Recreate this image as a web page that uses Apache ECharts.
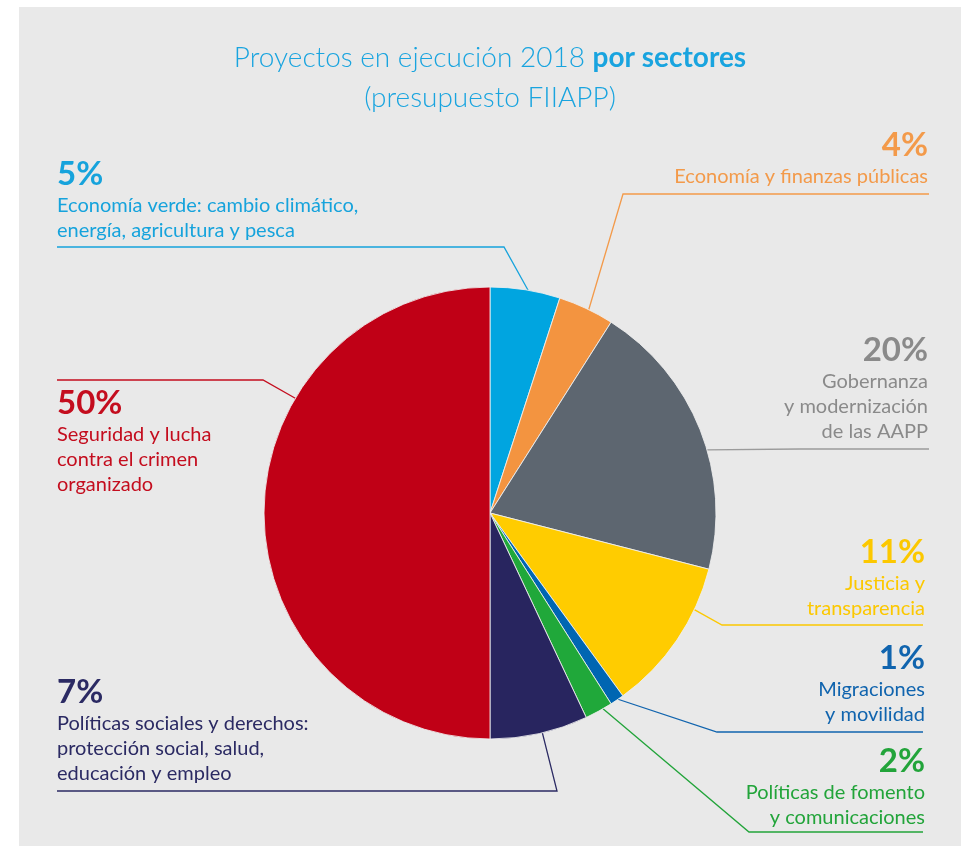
<!DOCTYPE html>
<html>
<head>
<meta charset="utf-8">
<script src="https://cdn.jsdelivr.net/npm/echarts@6/dist/echarts.min.js"></script>
<style>
  html, body { margin: 0; padding: 0; background: #ffffff; }
  #paper { position: absolute; left: 19px; top: 7px; width: 942px; height: 839px;
    background: #e9e9e9; }
  #chart { position: absolute; left: 0; top: 0; width: 968px; height: 846px; }
</style>
</head>
<body>
<div id="paper"></div>
<div id="chart"></div>
<script>
// ---- data ----
const sectors = [
  'Economía verde: cambio climático,\nenergía, agricultura y pesca',
  'Economía y finanzas públicas',
  'Gobernanza\ny modernización\nde las AAPP',
  'Justicia y\ntransparencia',
  'Migraciones\ny movilidad',
  'Políticas de fomento\ny comunicaciones',
  'Políticas sociales y derechos:\nprotección social, salud,\neducación y empleo',
  'Seguridad y lucha\ncontra el crimen\norganizado'
];
const shares = [5, 4, 20, 11, 1, 2, 7, 50];
const titleMain = 'Proyectos en ejecución 2018 ';
const titleBold = 'por sectores';
const titleSub = '(presupuesto FIIAPP)';

// ---- styles / layout ----
const sliceColors = ['#00a5e0', '#f39440', '#5d6670', '#ffcc00', '#0066b2', '#20a83a', '#28255f', '#c00016'];
const textColors  = ['#16a3dc', '#f39a4a', '#8a8a8a', '#fcc800', '#1064ae', '#22a43a', '#2b2a63', '#c40d1e'];
const lineColors  = ['#16a3dc', '#f39a4a', '#9b9b9b', '#fcc800', '#1064ae', '#22a43a', '#2b2a63', '#c40d1e'];
const CX = 490, CY = 513, R = 226;
// label block anchor: x, top y, alignment
const labelAnchors = [
  { x: 57,  y: 155, align: 'left'  },
  { x: 928, y: 126, align: 'right' },
  { x: 928, y: 331, align: 'right' },
  { x: 925, y: 533, align: 'right' },
  { x: 925, y: 639, align: 'right' },
  { x: 925, y: 742, align: 'right' },
  { x: 57,  y: 673, align: 'left'  },
  { x: 57,  y: 384, align: 'left'  }
];
// leader line: angle on the rim (deg clockwise from top), elbow, end
const leaderAngles = [9.7, 25.9, 73.8, 115.3, 145.5, 150, 166.6, 300.5];
const leaderElbows = [[504, 247], [623, 194], [800, 449], [722, 625], [717, 732], [749, 832], [557, 791], [263, 380]];
const leaderEnds   = [[57, 247], [929, 194], [929, 449], [923, 625], [923, 732], [923, 832], [57, 791], [57, 380]];

const chart = echarts.init(document.getElementById('chart'), null, { renderer: 'canvas' });
const FONT = 'Lato, "Noto Sans", sans-serif';

const data = shares.map((v, i) => ({
  name: sectors[i],
  value: v,
  itemStyle: { color: sliceColors[i] },
  label: { color: textColors[i] },
  labelLine: { lineStyle: { color: lineColors[i] } }
}));

chart.setOption({
  backgroundColor: 'transparent',
  animation: false,
  graphic: [{
    type: 'text',
    x: 490,
    y: 38,
    style: {
      text: '{a|' + titleMain + '}{b|' + titleBold + '}\n{a|' + titleSub + '}',
      align: 'center',
      verticalAlign: 'top',
      rich: {
        a: { fontFamily: FONT, fontSize: 28, fontWeight: 300, fill: '#19a4df', lineHeight: 40 },
        b: { fontFamily: FONT, fontSize: 28, fontWeight: 'bold', fill: '#19a4df', lineHeight: 40 }
      }
    }
  }],
  series: [{
    type: 'pie',
    center: [CX, CY],
    radius: [0, R],
    startAngle: 90,
    clockwise: true,
    avoidLabelOverlap: false,
    emphasis: { disabled: true },
    itemStyle: { borderColor: 'rgba(240,240,240,0.85)', borderWidth: 1 },
    label: {
      show: true,
      position: 'outside',
      fontFamily: FONT,
      formatter: p => '{p|' + p.value + '%}\n' +
        p.name.split('\n').map(s => '{n|' + s + '}').join('\n'),
      rich: {
        p: { fontFamily: FONT, fontSize: 33, fontWeight: 'bold', lineHeight: 38 },
        n: { fontFamily: FONT, fontSize: 20, fontWeight: 'normal', lineHeight: 25 }
      }
    },
    labelLine: { show: true, lineStyle: { width: 1.3 } },
    labelLayout: params => {
      const i = params.dataIndex;
      const a = labelAnchors[i];
      const ang = leaderAngles[i] * Math.PI / 180;
      const start = [CX + R * Math.sin(ang), CY - R * Math.cos(ang)];
      return {
        x: a.x, y: a.y, align: a.align, verticalAlign: 'top',
        labelLinePoints: [start, leaderElbows[i], leaderEnds[i]]
      };
    },
    data: data
  }]
});
</script>
</body>
</html>
